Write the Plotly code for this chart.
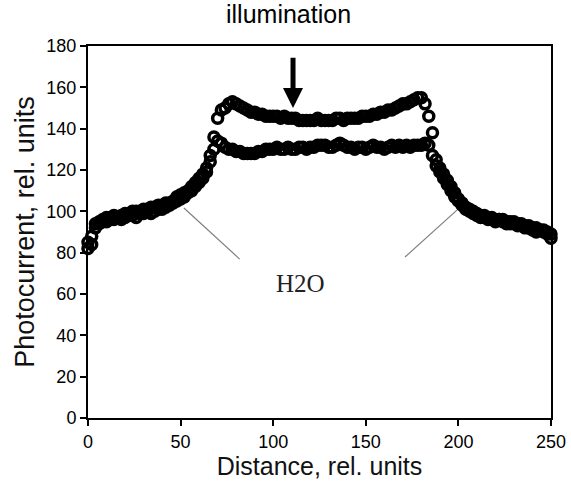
import plotly.graph_objects as go

# Distance positions (rel. units), step 2
distance = list(range(0, 252, 2))

# Lower series (rel. units)
lower = [82, 84, 92, 94, 95, 95, 96, 96, 97, 96,
         97, 98, 98, 97, 99, 99, 100, 99, 100, 101,
         101, 102, 103, 104, 105, 106, 107, 109, 110, 112,
         114, 116, 119, 124, 130, 134, 133, 131, 130, 130,
         129, 129, 128, 128, 128, 128, 129, 129, 130, 130,
         130, 131, 130, 130, 131, 130, 130, 131, 131, 130,
         131, 131, 132, 132, 132, 131, 131, 132, 133, 132,
         131, 131, 130, 131, 131, 130, 131, 132, 131, 131,
         130, 131, 132, 131, 132, 131, 132, 131, 132, 132,
         132, 133, 132, 127, 122, 119, 116, 113, 110, 107,
         105, 103, 101, 100, 99, 98, 97, 97, 96, 96,
         95, 96, 95, 94, 94, 94, 93, 93, 92, 92,
         91, 90, 91, 90, 89, 87]

# Upper series (rel. units)
upper = [85, 88, 94, 95, 96, 97, 97, 98, 97, 98,
         99, 99, 100, 100, 100, 101, 101, 102, 102, 103,
         103, 104, 104, 105, 107, 108, 109, 110, 112, 114,
         116, 118, 121, 127, 136, 145, 149, 150, 152, 153,
         152, 151, 150, 149, 148, 148, 147, 147, 146, 146,
         146, 146, 145, 146, 145, 145, 145, 144, 144, 144,
         144, 144, 145, 144, 144, 144, 144, 145, 145, 144,
         145, 145, 145, 145, 146, 146, 146, 147, 147, 148,
         148, 149, 149, 150, 151, 152, 152, 153, 154, 155,
         155, 152, 146, 138, 125, 121, 118, 115, 112, 109,
         106, 104, 102, 101, 100, 99, 98, 98, 97, 97,
         96, 96, 96, 95, 95, 95, 94, 94, 93, 93,
         92, 92, 91, 91, 90, 89]

x_ticks = [0, 50, 100, 150, 200, 250]
y_ticks = [0, 20, 40, 60, 80, 100, 120, 140, 160, 180]

fig = go.Figure()
for ys in (lower, upper):
    fig.add_trace(go.Scatter(
        x=distance, y=ys, mode="markers", cliponaxis=False,
        marker=dict(symbol="circle-open", size=10, color="black",
                    line=dict(width=3.5, color="black")),
        showlegend=False, hoverinfo="skip"))

# gray pointer lines to H2O label
fig.add_shape(type="line", x0=51.8, y0=101.6, x1=81.9, y1=76.9,
              line=dict(color="#808080", width=1.2))
fig.add_shape(type="line", x0=199.2, y0=100.6, x1=171.2, y1=77.9,
              line=dict(color="#808080", width=1.2))

fig.add_annotation(x=115, y=65.3, text="H2O", showarrow=False,
                   font=dict(family="Liberation Serif", size=25, color="#222"))

# illumination arrow
fig.add_annotation(x=110.7, y=150, ax=110.7, ay=175, xref="x", yref="y",
                   axref="x", ayref="y", text="", showarrow=True,
                   arrowhead=2, arrowsize=0.8, arrowwidth=5, arrowcolor="black")
fig.add_annotation(x=108, y=1.086, xref="x", yref="paper", yanchor="middle",
                   text="illumination", showarrow=False,
                   font=dict(family="Liberation Sans", size=25, color="black"))

axis_common = dict(showgrid=False, zeroline=False, showline=True, linecolor="black",
                   linewidth=2, mirror=True, ticks="outside", ticklen=6,
                   tickcolor="black", tickwidth=1.5, automargin=False,
                   tickfont=dict(family="Liberation Sans", size=18, color="black"))

fig.update_xaxes(range=[0, 250], tickvals=x_ticks,
                 title=dict(text="Distance, rel. units", standoff=4,
                            font=dict(family="Liberation Sans", size=25, color="#111")),
                 **axis_common)
fig.update_yaxes(range=[0, 180], tickvals=y_ticks,
                 title=dict(text="Photocurrent, rel. units", standoff=4,
                            font=dict(family="Liberation Sans", size=27, color="#111")),
                 **axis_common)

fig.update_layout(width=571, height=487, plot_bgcolor="white", paper_bgcolor="white",
                  margin=dict(l=88, r=20, t=46, b=69))

fig.write_html("out.html", config={"displayModeBar": False},
               post_script="document.body.style.margin='0px';document.body.style.overflow='hidden';")
